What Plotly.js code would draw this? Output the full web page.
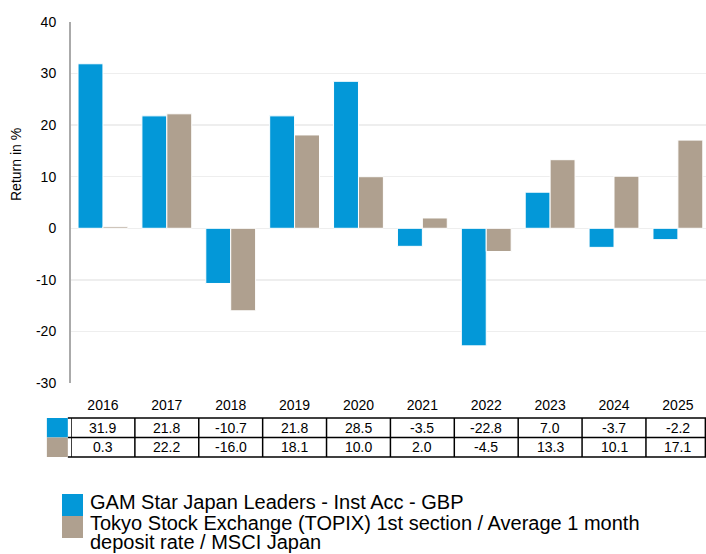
<!DOCTYPE html>
<html><head><meta charset="utf-8">
<script src="https://cdn.plot.ly/plotly-3.0.1.min.js"></script>
<style>html,body{margin:0;padding:0;background:#fff}#c{width:706px;height:554px}</style>
</head><body><div id="c"></div>
<script>
const years = ["2016","2017","2018","2019","2020","2021","2022","2023","2024","2025"];
const fundName = "GAM Star Japan Leaders - Inst Acc - GBP";
const benchNameLines = ["Tokyo Stock Exchange (TOPIX) 1st section / Average 1 month", "deposit rate / MSCI Japan"];
const fundValues = [31.9, 21.8, -10.7, 21.8, 28.5, -3.5, -22.8, 7.0, -3.7, -2.2];
const benchValues = [0.3, 22.2, -16.0, 18.1, 10.0, 2.0, -4.5, 13.3, 10.1, 17.1];
const yTicks = [-30,-20,-10,0,10,20,30,40];
const yTickText = ["-30","-20","-10","0","10","20","30","40"];

const BLUE = "#0398D8", TAN = "#AFA08F";
const FONT = "Liberation Sans, Arial, sans-serif";

const traces = [
  {type:"bar", x:years, y:fundValues, name:fundName, marker:{color:BLUE, line:{color:"#ffffff", width:1}}, hoverinfo:"none"},
  {type:"bar", x:years, y:benchValues, name:benchNameLines.join(" "), marker:{color:TAN, line:{color:"#ffffff", width:1}}, hoverinfo:"none"}
];

// table geometry (paper coords)
const rowTop = (383-418)/361, rowMid = (383-437.5)/361, rowBot = (383-457)/361;
const shapes = [];
const annotations = [];
const fmt = v => v.toFixed(1);

[rowTop, rowMid, rowBot].forEach(y => shapes.push({type:"line", xref:"paper", yref:"paper", x0:-0.005, x1:1, y0:y, y1:y, line:{color:"#000", width:1.5}}));
for (let i = 0; i < years.length; i++) {
  shapes.push({type:"line", xref:"x", yref:"paper", x0:i-0.5, x1:i-0.5, y0:rowTop, y1:rowBot, line:{color:"#000", width:1.5}});
}
shapes.push({type:"line", xref:"paper", yref:"paper", x0:0.999, x1:0.999, y0:rowTop, y1:rowBot, line:{color:"#000", width:1.5}});
shapes.push({type:"rect", xref:"paper", yref:"paper", x0:-0.038, x1:-0.005, y0:rowTop, y1:rowMid, fillcolor:BLUE, line:{width:0}});
shapes.push({type:"rect", xref:"paper", yref:"paper", x0:-0.038, x1:-0.005, y0:rowMid, y1:rowBot, fillcolor:TAN, line:{width:0}});

years.forEach((yr, i) => {
  annotations.push({xref:"x", yref:"paper", x:i, y:(rowTop+rowMid)/2, text:fmt(fundValues[i]), showarrow:false, font:{family:FONT, size:14, color:"#000"}, xanchor:"center", yanchor:"middle"});
  annotations.push({xref:"x", yref:"paper", x:i, y:(rowMid+rowBot)/2, text:fmt(benchValues[i]), showarrow:false, font:{family:FONT, size:14, color:"#000"}, xanchor:"center", yanchor:"middle"});
});

// legend (custom)
const LX = 0.0268, LF = 20;
shapes.push({type:"rect", xref:"paper", yref:"paper", x0:-0.0142, x1:0.0189, y0:(383-494)/361, y1:(383-516)/361, fillcolor:BLUE, line:{width:0}});
shapes.push({type:"rect", xref:"paper", yref:"paper", x0:-0.0142, x1:0.0189, y0:(383-516)/361, y1:(383-538)/361, fillcolor:TAN, line:{width:0}});
annotations.push({xref:"paper", yref:"paper", x:LX, y:(383-502)/361, text:fundName, showarrow:false, xanchor:"left", yanchor:"middle", font:{family:FONT, size:LF, color:"#000"}});
annotations.push({xref:"paper", yref:"paper", x:LX, y:(383-523)/361, text:benchNameLines[0], showarrow:false, xanchor:"left", yanchor:"middle", font:{family:FONT, size:LF, color:"#000"}});
annotations.push({xref:"paper", yref:"paper", x:LX, y:(383-542)/361, text:benchNameLines[1], showarrow:false, xanchor:"left", yanchor:"middle", font:{family:FONT, size:LF, color:"#000"}});

// y axis title
annotations.push({xref:"paper", yref:"paper", x:(16-71)/635, y:(383-165)/361, text:"Return in %", textangle:-90, showarrow:false, xanchor:"center", yanchor:"middle", font:{family:FONT, size:14, color:"#000"}});

const layout = {
  width:706, height:554,
  margin:{l:71, r:0, t:22, b:171},
  paper_bgcolor:"#fff", plot_bgcolor:"#fff",
  showlegend:false,
  barmode:"group", bargap:0.22, bargroupgap:0,
  font:{family:FONT, size:14, color:"#000"},
  xaxis:{type:"category", range:[-0.5, 9.44], showgrid:false, zeroline:false, showline:false, ticks:"", ticklabelstandoff:12, tickfont:{family:FONT, size:14, color:"#000"}},
  yaxis:{range:[-30,40], tickvals:yTicks, ticktext:yTickText, showgrid:true, gridcolor:"#eeeeee", gridwidth:1.5, zeroline:false, showline:true, linecolor:"#aaaaaa", linewidth:2, ticks:"", ticklabelstandoff:10, tickfont:{family:FONT, size:14, color:"#000"}},
  shapes:shapes,
  annotations:annotations
};

Plotly.newPlot("c", traces, layout, {displayModeBar:false, staticPlot:true});
</script>
</body></html>
